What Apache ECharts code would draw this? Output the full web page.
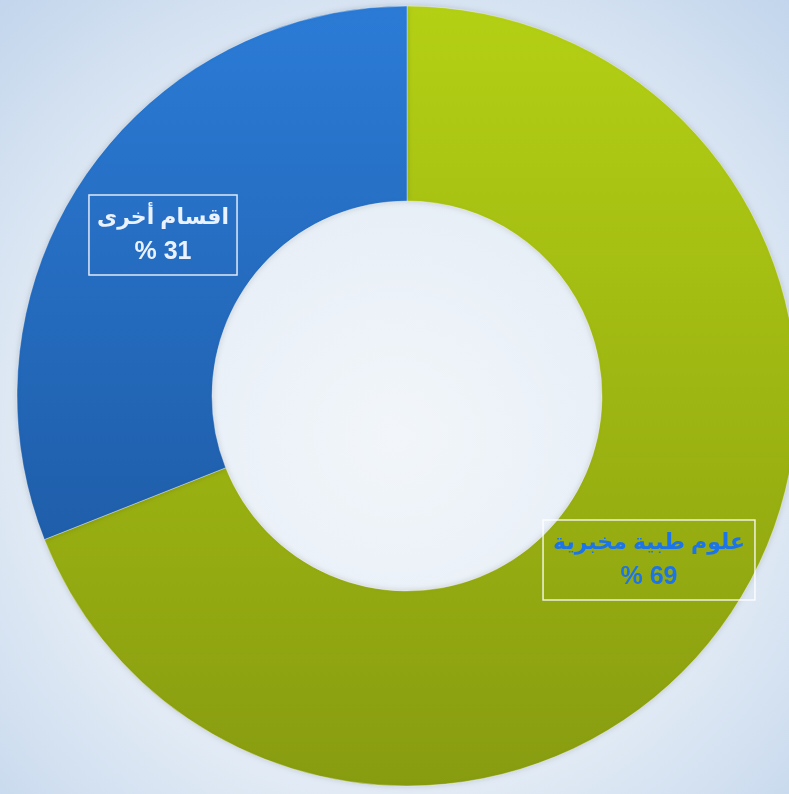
<!DOCTYPE html>
<html>
<head>
<meta charset="utf-8">
<script src="https://cdn.jsdelivr.net/npm/echarts@6/dist/echarts.min.js"></script>
<style>
  html, body { margin: 0; padding: 0; }
  #chart { width: 789px; height: 794px; }
</style>
</head>
<body>
<div id="chart"></div>
<script>
// share of departments
const names = ['علوم طبية مخبرية', 'اقسام أخرى'];
const values = [69, 31];

const chart = echarts.init(document.getElementById('chart'));

const fills = [
  new echarts.graphic.LinearGradient(0, 0, 0, 1, [
    { offset: 0, color: '#b4d014' },
    { offset: 1, color: '#889c10' }
  ]),
  new echarts.graphic.LinearGradient(0, 0, 0, 1, [
    { offset: 0, color: '#2b7bd6' },
    { offset: 1, color: '#1f5eaa' }
  ])
];

const labelStyles = [
  { color: '#1b74ea', box: [649, 560], pad: [6, 10, 6, 10] },
  { color: '#eaf2ff', box: [163, 235], pad: [6, 8, 6, 8] }
];

chart.setOption({
  backgroundColor: new echarts.graphic.RadialGradient(0.5, 0.55, 0.75, [
    { offset: 0, color: '#f2f6fa' },
    { offset: 0.6, color: '#e2ebf5' },
    { offset: 1, color: '#c2d5ec' }
  ]),
  animation: false,
  series: [
    {
      type: 'pie',
      center: [407, 396],
      radius: [195, 390],
      startAngle: 90,
      clockwise: true,
      label: {
        show: true,
        position: 'inside',
        fontFamily: 'Liberation Sans, DejaVu Sans, sans-serif',
        fontWeight: 'bold',
        lineHeight: 34,
        borderColor: 'rgba(255,255,255,0.85)',
        borderWidth: 1.5,
        formatter: (p) => '{n|' + p.name + '}\n{v|% ' + p.value + '}',
        rich: {
          n: { fontSize: 22, fontWeight: 'bold', lineHeight: 34 },
          v: { fontSize: 25, fontWeight: 'bold', lineHeight: 34 }
        }
      },
      labelLine: { show: false },
      labelLayout: (params) => ({
        x: labelStyles[params.dataIndex].box[0],
        y: labelStyles[params.dataIndex].box[1],
        align: 'center',
        verticalAlign: 'middle'
      }),
      itemStyle: {
        borderColor: 'rgba(255,255,255,0.35)',
        borderWidth: 1,
        shadowBlur: 6,
        shadowColor: 'rgba(0,0,0,0.15)'
      },
      data: names.map((n, i) => ({
        name: n,
        value: values[i],
        itemStyle: { color: fills[i] },
        label: {
          color: labelStyles[i].color,
          padding: labelStyles[i].pad,
          rich: {
            n: { color: labelStyles[i].color },
            v: { color: labelStyles[i].color }
          }
        }
      }))
    }
  ]
});
</script>
</body>
</html>
